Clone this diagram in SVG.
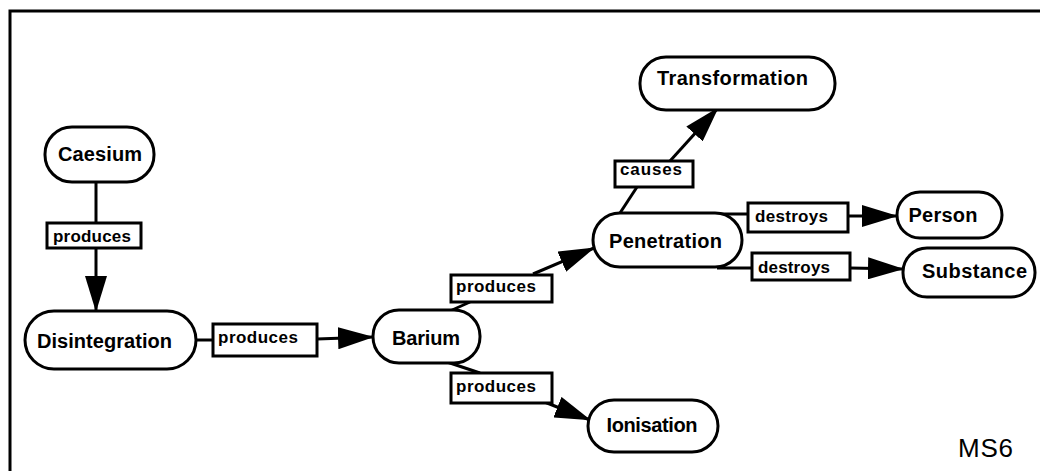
<svg xmlns="http://www.w3.org/2000/svg" width="1040" height="471" viewBox="0 0 1040 471">
<style>
.node rect{fill:#fff;stroke:#000;stroke-width:3}
.node text{font-family:"Liberation Sans",Arial,sans-serif;font-size:20px;font-weight:bold;text-anchor:middle;fill:#000}
.lbl rect{fill:#fff;stroke:#000;stroke-width:3}
.lbl text{font-family:"Liberation Sans",Arial,sans-serif;font-size:17px;font-weight:bold;fill:#000}
.conn line{stroke:#000;stroke-width:3;fill:none}
.conn line.a{marker-end:url(#ah)}
</style>
<defs>
<marker id="ah" viewBox="0 0 36 22" refX="35" refY="11" markerWidth="36" markerHeight="22" markerUnits="userSpaceOnUse" orient="auto">
<path d="M0,0 L36,11 L0,22 Z" fill="#000"/>
</marker>
</defs>
<rect width="1040" height="471" fill="#fff"/>
<path d="M10,471 L10,11 L1040,11" fill="none" stroke="#000" stroke-width="3"/>
<g class="conn" id="connectors">
<line x1="96" y1="182" x2="96" y2="223"/>
<line class="a" x1="96" y1="248" x2="96" y2="311"/>
<line x1="196" y1="340" x2="213" y2="340"/>
<line class="a" x1="317" y1="339" x2="373" y2="337"/>
<line x1="450" y1="311" x2="470" y2="302"/>
<line class="a" x1="533" y1="274" x2="594" y2="248"/>
<line x1="447" y1="362" x2="480" y2="373"/>
<line class="a" x1="542" y1="401" x2="590" y2="420"/>
<line x1="620" y1="213" x2="637" y2="187"/>
<line class="a" x1="670" y1="161" x2="718" y2="108"/>
<line x1="622" y1="214" x2="748" y2="214"/>
<line class="a" x1="848" y1="216" x2="897" y2="216"/>
<line x1="717" y1="268" x2="752" y2="268"/>
<line class="a" x1="850" y1="268" x2="903" y2="269"/>
</g>
<g class="node" id="caesium"><rect x="45" y="127" width="109" height="55" rx="27"/><text x="100" y="161" textLength="84">Caesium</text></g>
<g class="node" id="disintegration"><rect x="25" y="311" width="171" height="58" rx="29"/><text x="104.5" y="348" textLength="135">Disintegration</text></g>
<g class="node" id="barium"><rect x="373" y="310" width="107" height="53" rx="26"/><text x="426" y="345" textLength="68">Barium</text></g>
<g class="node" id="penetration"><rect x="593" y="213" width="149" height="54" rx="27"/><text x="665.5" y="248" textLength="113">Penetration</text></g>
<g class="node" id="ionisation"><rect x="588" y="400" width="130" height="52" rx="26"/><text x="652" y="432" textLength="91">Ionisation</text></g>
<g class="node" id="transformation"><rect x="640" y="57" width="195" height="53" rx="26"/><text x="732.5" y="85" textLength="151">Transformation</text></g>
<g class="node" id="person"><rect x="897" y="192" width="105" height="46" rx="23"/><text x="943" y="222" textLength="69">Person</text></g>
<g class="node" id="substance"><rect x="903" y="248" width="132" height="49" rx="24"/><text x="974.5" y="278" textLength="105">Substance</text></g>
<g class="lbl" id="lbl1"><rect x="47" y="223" width="94" height="25"/><text x="53" y="242" textLength="78">produces</text></g>
<g class="lbl" id="lbl2"><rect x="213" y="324" width="104" height="32"/><text x="218" y="343" textLength="80">produces</text></g>
<g class="lbl" id="lbl3"><rect x="451" y="275" width="101" height="27"/><text x="456" y="292" textLength="80">produces</text></g>
<g class="lbl" id="lbl4"><rect x="451" y="373" width="101" height="30"/><text x="456" y="392" textLength="80">produces</text></g>
<g class="lbl" id="lbl5"><rect x="615" y="161" width="78" height="26"/><text x="620" y="175" textLength="62">causes</text></g>
<g class="lbl" id="lbl6"><rect x="748" y="203" width="100" height="29"/><text x="755" y="222" textLength="73">destroys</text></g>
<g class="lbl" id="lbl7"><rect x="752" y="253" width="98" height="27"/><text x="758" y="273" textLength="72">destroys</text></g>
<text x="958" y="457" font-family="'Liberation Sans',Arial,sans-serif" font-size="26" textLength="55">MS6</text>
</svg>
